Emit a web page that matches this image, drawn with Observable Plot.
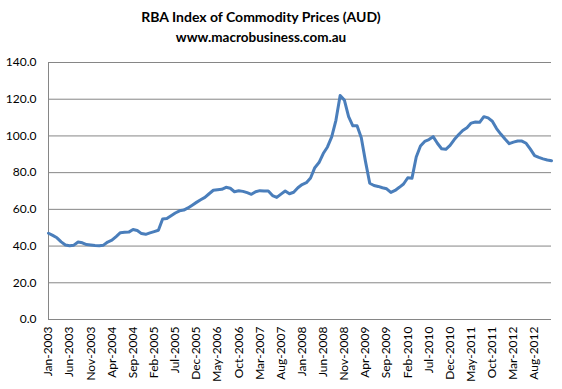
<!DOCTYPE html>
<html><head><meta charset="utf-8">
<script src="https://cdn.jsdelivr.net/npm/d3@7"></script>
<script src="https://cdn.jsdelivr.net/npm/@observablehq/plot@0.6"></script>
<style>
body{margin:0;background:#fff;}
#wrap{width:562px;height:389px;position:relative;overflow:hidden;font-family:Lato,"Open Sans",sans-serif;color:#000;}
.t{position:absolute;left:0;width:522px;text-align:center;font-weight:bold;white-space:nowrap;line-height:16px;}
#t1{top:9px;font-size:14px;}
#t2{top:29px;font-size:13.5px;}
#chart{position:absolute;left:0;top:50px;}
</style></head>
<body>
<div id="wrap">
  <div class="t" id="t1">RBA Index of Commodity Prices (AUD)</div>
  <div class="t" id="t2">www.macrobusiness.com.au</div>
  <div id="chart"></div>
</div>
<script>
// Monthly values, Jan-2003 .. Dec-2012
const values = [
  47.0, 45.8, 44.5, 42.3, 40.6, 40.2, 40.5, 42.2, 41.8, 40.8, 40.6, 40.3,
  40.2, 40.5, 42.2, 43.2, 45.2, 47.3, 47.5, 47.6, 49.0, 48.5, 46.8, 46.4,
  47.2, 47.9, 48.6, 54.8, 55.0, 56.5, 58.0, 59.2, 59.6, 60.8, 62.3, 63.8,
  65.2, 66.5, 68.5, 70.4, 70.7, 70.9, 72.0, 71.5, 69.6, 70.1, 69.8, 69.1,
  68.2, 69.6, 70.2, 70.0, 70.0, 67.5, 66.5, 68.3, 70.0, 68.5, 69.3, 71.8,
  73.5, 74.5, 77.1, 82.7, 85.5, 90.4, 94.0, 99.5, 108.5, 122.0, 119.5, 110.5,
  105.5, 105.5, 99.0, 86.0, 74.2, 73.0, 72.5, 71.8, 71.2, 69.2, 70.3, 72.0,
  73.8, 77.2, 77.0, 88.5, 94.5, 97.0, 98.0, 99.6, 96.0, 93.0, 92.7, 94.8,
  98.0, 100.6, 103.0, 104.5, 107.0, 107.6, 107.4, 110.5, 109.8, 108.0, 104.0, 101.0,
  98.3, 95.8, 96.6, 97.2, 97.2, 96.0, 92.8, 89.3, 88.3, 87.5, 86.9, 86.5
];
// Category labels shown every 5th month
const tickLabels = [
  "Jan-2003","Jun-2003","Nov-2003","Apr-2004","Sep-2004","Feb-2005","Jul-2005","Dec-2005",
  "May-2006","Oct-2006","Mar-2007","Aug-2007","Jan-2008","Jun-2008","Nov-2008","Apr-2009",
  "Sep-2009","Feb-2010","Jul-2010","Dec-2010","May-2011","Oct-2011","Mar-2012","Aug-2012"
];
const yTicks = [0, 20, 40, 60, 80, 100, 120, 140];

const data = values.map((v, i) => ({i, v}));
const tickIdx = tickLabels.map((_, k) => k * 5);

const chart = Plot.plot({
  width: 562,
  height: 339,
  marginLeft: 48,
  marginRight: 11,
  marginTop: 12,
  marginBottom: 70,
  style: {fontFamily: "Lato, 'Open Sans', sans-serif", color: "#000", background: "#fff"},
  x: {domain: [0, values.length - 1]},
  y: {domain: [0, 140]},
  marks: [
    Plot.gridY(yTicks, {stroke: "#868686", strokeOpacity: 1, strokeWidth: 1}),
    Plot.ruleX([0], {stroke: "#868686", strokeWidth: 1}),
    Plot.axisY(yTicks, {tickSize: 0, tickPadding: 12, tickFormat: d3.format(".1f"), fontSize: 12, label: null}),
    Plot.axisX(tickIdx, {tickSize: 0, tickPadding: 7, tickRotate: -90, fontSize: 12, label: null,
      tickFormat: (d) => tickLabels[d / 5]}),
    Plot.line(data, {x: "i", y: "v", stroke: "#4a7ebb", strokeWidth: 3, strokeLinejoin: "round", strokeLinecap: "round"})
  ]
});
document.getElementById("chart").appendChild(chart);
</script>
</body></html>
